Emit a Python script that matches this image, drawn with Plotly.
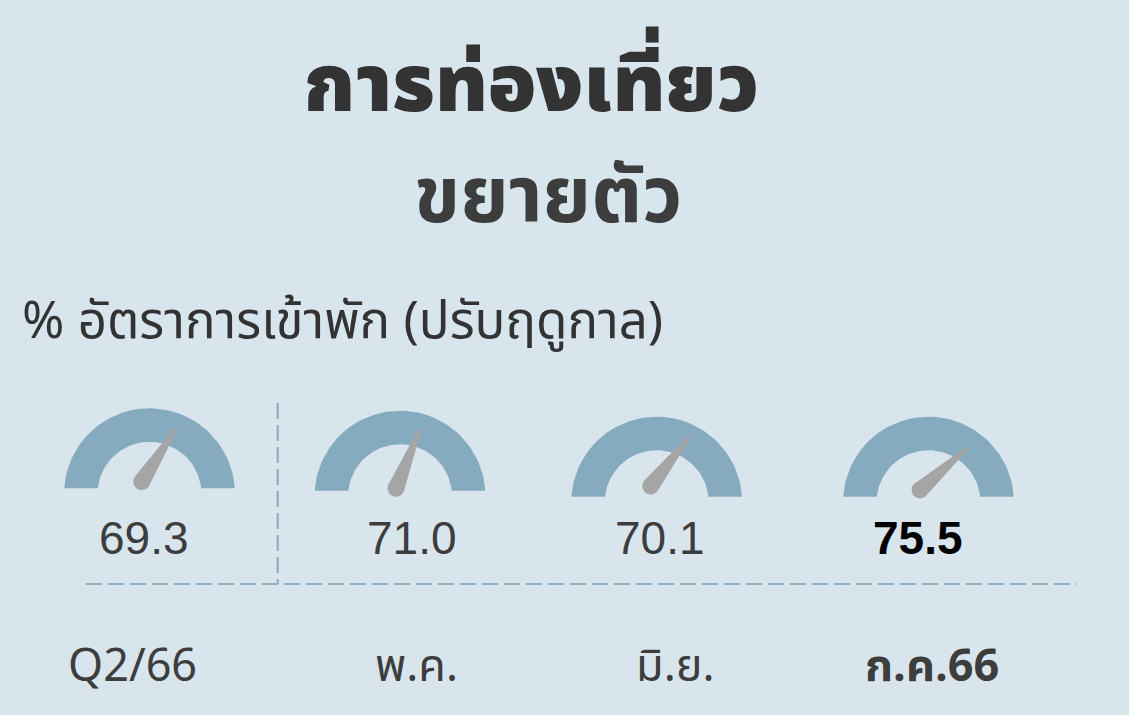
import numpy as np
import plotly.graph_objects as go

# data
periods = ["Q2/66", "พ.ค.", "มิ.ย.", "ก.ค.66"]
occupancy = [69.3, 71.0, 70.1, 75.5]
needle_reading = [68.2, 62.3, 71.2, 76.8]   # where each needle points on a 0-100 dial
highlight = [False, False, False, True]

title = "การท่องเที่ยว"
subtitle = "ขยายตัว"
unit_label = "% อัตราการเข้าพัก (ปรับฤดูกาล)"

# layout of the gauges (pixel units, y grows downward)
gauge_cx = [149.5, 400.0, 656.7, 928.5]
gauge_bottom = [488.3, 490.7, 496.7, 496.7]
pivot_x = [141.7, 396.0, 650.7, 920.0]
pivot_y = [481.7, 488.3, 486.0, 490.0]
R_OUT, R_IN, DROP = 85.5, 52.0, 5.5
NEEDLE_LEN, BASE_R, TIP_W = 62.0, 8.5, 1.6

BG = "#d8e5ed"
ARC = "#86abbf"
NEEDLE = "#a5a5a5"
DASH = "#8fb0c4"
THAI_FONT = "Noto Sans Thai, Kanit, Loma, Garuda, Waree, Tlwg Typo, Liberation Sans, sans-serif"

W, H = 1129, 715

fig = go.Figure()

for i in range(len(periods)):
    # the dial arc
    cx, cy = gauge_cx[i], gauge_bottom[i] + DROP
    a_out = np.arcsin(DROP / R_OUT)
    a_in = np.arcsin(DROP / R_IN)
    t_out = np.linspace(a_out, np.pi - a_out, 80)
    t_in = np.linspace(np.pi - a_in, a_in, 80)
    xs = np.concatenate([cx + R_OUT * np.cos(t_out), cx + R_IN * np.cos(t_in)])
    ys = np.concatenate([cy - R_OUT * np.sin(t_out), cy - R_IN * np.sin(t_in)])
    fig.add_trace(go.Scatter(x=xs, y=ys, fill="toself", fillcolor=ARC,
                             mode="lines", line=dict(width=0), hoverinfo="skip",
                             showlegend=False))

    # needle: angle from the 0-100 dial reading
    th = np.pi * (1 - needle_reading[i] / 100.0)
    dx, dy = np.cos(th), -np.sin(th)
    bx, by = pivot_x[i], pivot_y[i]
    ang0 = np.arctan2(dy, dx)
    arc_t = np.linspace(ang0 + np.pi / 2, ang0 + 3 * np.pi / 2, 30)
    nx = list(bx + BASE_R * np.cos(arc_t))
    ny = list(by + BASE_R * np.sin(arc_t))
    tipx, tipy = bx + NEEDLE_LEN * dx, by + NEEDLE_LEN * dy
    tip_t = np.linspace(ang0 - np.pi / 2, ang0 + np.pi / 2, 10)
    nx += list(tipx + TIP_W * np.cos(tip_t))
    ny += list(tipy + TIP_W * np.sin(tip_t))
    nx.append(nx[0])
    ny.append(ny[0])
    fig.add_trace(go.Scatter(x=nx, y=ny, fill="toself", fillcolor=NEEDLE,
                             mode="lines", line=dict(width=0, color=NEEDLE),
                             hoverinfo="skip", showlegend=False))

# value labels and period labels
value_x = [144, 412, 660, 918]
period_x = [132, 416, 675, 932]
for i in range(len(periods)):
    bold = highlight[i]
    fig.add_annotation(x=value_x[i], y=538, text=f"{occupancy[i]:.1f}", showarrow=False,
                       xanchor="center", yanchor="middle",
                       font=dict(family="Liberation Sans, Arial", size=46,
                                 color="#000000" if bold else "#3d3d3d",
                                 weight="bold" if bold else "normal"))
    fig.add_annotation(x=period_x[i], y=667, text=periods[i], showarrow=False,
                       xanchor="center", yanchor="middle",
                       font=dict(family=THAI_FONT, size=45, color="#3d3d3d",
                                 weight="bold" if bold else "normal"))

fig.add_annotation(x=531, y=86, text=title, showarrow=False, xanchor="center", yanchor="middle",
                   font=dict(family=THAI_FONT, size=80, color="#333333", weight=900))
fig.add_annotation(x=548, y=198, text=subtitle, showarrow=False, xanchor="center", yanchor="middle",
                   font=dict(family=THAI_FONT, size=78, color="#3d3d3d", weight="bold"))
fig.add_annotation(x=20, y=322, text=unit_label, showarrow=False, xanchor="left", yanchor="middle",
                   font=dict(family=THAI_FONT, size=51, color="#333333"))

# dashed guide lines
fig.add_shape(type="line", x0=86, x1=1077, y0=584, y1=584, xref="x", yref="y",
              line=dict(color=DASH, width=2.2, dash="16px,6px"))
fig.add_shape(type="line", x0=277.7, x1=277.7, y0=403, y1=584, xref="x", yref="y",
              line=dict(color=DASH, width=2.2, dash="16px,6px"))

fig.update_xaxes(range=[0, W], visible=False, fixedrange=True)
fig.update_yaxes(range=[H, 0], visible=False, fixedrange=True)
fig.update_layout(width=W, height=H, margin=dict(l=0, r=0, t=0, b=0),
                  paper_bgcolor=BG, plot_bgcolor=BG, showlegend=False)

fig.write_html("out.html", config={"displayModeBar": False},
               post_script="document.body.style.margin='0';document.body.style.overflow='hidden';")
